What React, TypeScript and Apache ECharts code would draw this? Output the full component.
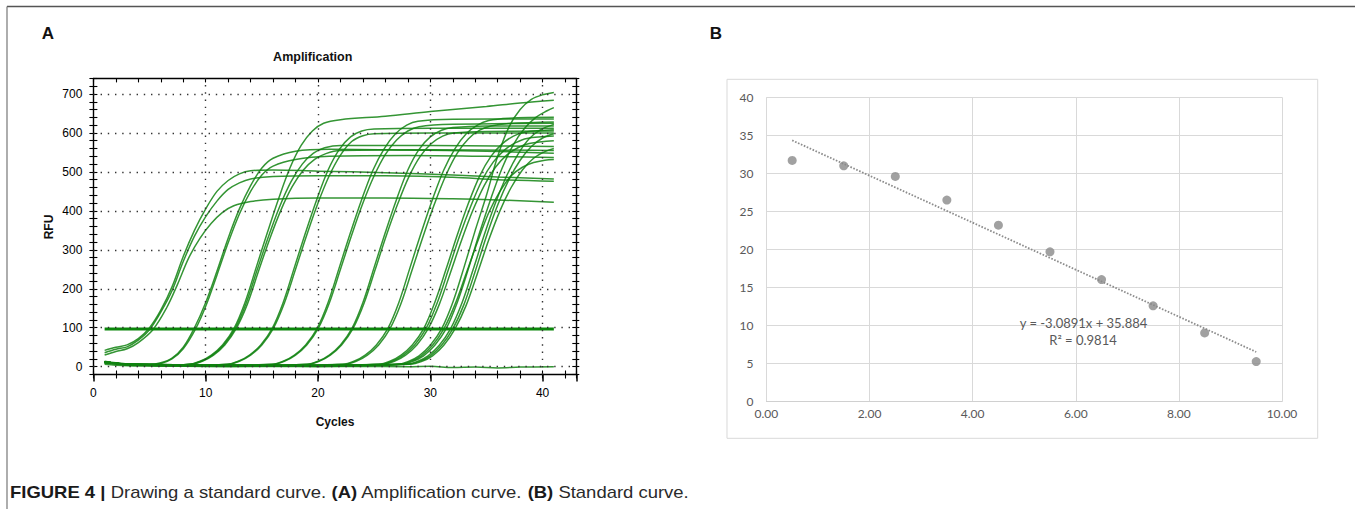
import React, { useEffect, useRef } from "react";
import * as echarts from "echarts";

const W = 1355;
const H = 509;

const FONT_A = "'Liberation Sans', Arial, Helvetica, sans-serif";
const FONT_B = "Lato, 'Liberation Sans', Arial, sans-serif";
const FONT_CAP = "'Liberation Sans', Arial, Helvetica, sans-serif";

// ---------------- Panel A: amplification curves ----------------
const xTickLabelsA = [0, 10, 20, 30, 40];
const yTickLabelsA = [0, 100, 200, 300, 400, 500, 600, 700];
const thresholdRFU = 97;
const thresholdSpan = [1, 41];

const curveCt5a = [[1, 42], [2, 50], [3, 56], [4, 72], [5, 100], [6, 145], [7, 205], [8, 283], [9, 350], [10, 405], [11, 450], [12, 478], [13, 495], [14, 503], [16, 505], [20, 502], [26, 498], [32, 492], [36, 487], [41, 482]];
const curveCt5b = [[1, 36], [2, 45], [3, 51], [4, 68], [5, 95], [6, 140], [7, 195], [8, 270], [9, 335], [10, 385], [11, 425], [12, 455], [13, 472], [14, 482], [16, 488], [20, 490], [26, 490], [32, 486], [36, 480], [41, 476]];
const curveCt5c = [[1, 30], [2, 39], [3, 46], [4, 62], [5.3, 95], [6.5, 150], [7.5, 212], [8.5, 280], [9.5, 330], [10.5, 368], [11.5, 396], [12.5, 413], [14, 424], [16, 430], [20, 433], [26, 433], [32, 431], [36, 428], [41, 422]];
const curveCt9a = [[1, 14], [2, 10], [3, 7], [5, 6], [6, 10], [7, 22], [8, 50], [9, 100], [10, 165], [11, 245], [12, 330], [13, 405], [14, 465], [15, 510], [16, 535], [18, 553], [21, 558], [28, 556], [35, 553], [41, 548]];
const curveCt9b = [[1, 12], [2, 9], [3, 6], [5, 5], [6, 8], [7, 20], [8, 46], [9.1, 97], [10, 155], [11, 235], [12, 318], [13, 392], [14, 450], [15, 492], [16, 515], [18, 532], [21, 540], [28, 542], [35, 540], [41, 537]];
const curveCt12a = [[1, 13], [2, 9], [3, 6], [6, 3], [8.5, 6], [9.5, 14], [10.5, 30], [11.5, 56], [12.5, 97], [13.5, 165], [14.5, 255], [15.5, 345], [16.5, 432], [17.5, 510], [18.5, 568], [19.5, 605], [20.5, 625], [22, 634], [26, 643], [30, 655], [35, 668], [38, 677], [41, 684]];
const curveCt12b = [[1, 11], [2, 8], [3, 6], [6, 3], [8.6, 6], [9.6, 14], [10.6, 30], [11.6, 56], [12.6, 97], [13.6, 163], [14.6, 250], [15.6, 335], [16.6, 412], [17.6, 475], [18.6, 520], [19.6, 548], [20.6, 562], [22, 568], [30, 568], [41, 565]];
const curveCt12c = [[1, 10], [2, 8], [3, 5], [6, 3], [8.7, 6], [9.7, 14], [10.7, 30], [11.7, 56], [12.7, 97], [13.7, 160], [14.7, 245], [15.7, 328], [16.7, 402], [17.7, 462], [18.7, 505], [19.7, 532], [20.7, 547], [22, 555], [30, 557], [41, 555]];
const curveCt16a = [[1, 12], [2, 9], [3, 6], [8, 3], [11.9, 6], [12.9, 14], [13.9, 30], [14.9, 56], [15.9, 97], [16.9, 165], [17.9, 255], [18.9, 345], [19.9, 430], [20.9, 505], [21.9, 558], [22.9, 590], [23.9, 605], [25, 610], [30, 612], [41, 612]];
const curveCt16b = [[1, 13], [2, 9], [3, 6], [8, 3], [12, 6], [13, 14], [14, 30], [15, 56], [16, 97], [17, 163], [18, 250], [19, 338], [20, 420], [21, 490], [22, 543], [23, 578], [24, 593], [25, 598], [30, 600], [41, 600]];
const curveCt20a = [[1, 12], [2, 9], [3, 6], [10, 3], [15.9, 6], [16.9, 14], [17.9, 30], [18.9, 56], [19.9, 97], [20.9, 165], [21.9, 255], [22.9, 345], [23.9, 430], [24.9, 505], [25.9, 560], [26.9, 598], [27.9, 620], [28.9, 630], [32, 635], [41, 636]];
const curveCt20b = [[1, 11], [2, 8], [3, 5], [10, 2], [16, 6], [17, 14], [18, 30], [19, 56], [20, 97], [21, 163], [22, 250], [23, 338], [24, 420], [25, 490], [26, 545], [27, 582], [28, 605], [29, 616], [32, 622], [41, 625]];
const curveCt23a = [[1, 12], [2, 9], [3, 6], [12, 3], [19, 6], [20, 14], [21, 30], [22, 56], [23, 97], [24, 165], [25, 255], [26, 345], [27, 430], [28, 505], [29, 558], [30, 590], [31, 607], [32, 614], [35, 618], [41, 618]];
const curveCt23b = [[1, 10], [2, 8], [3, 5], [12, 2], [19.1, 6], [20.1, 14], [21.1, 30], [22.1, 56], [23.1, 97], [24.1, 163], [25.1, 250], [26.1, 338], [27.1, 418], [28.1, 488], [29.1, 540], [30.1, 573], [31.1, 592], [32.1, 600], [35, 604], [41, 605]];
const curveCt26a = [[1, 12], [2, 9], [3, 6], [15, 3], [22.2, 6], [23.2, 14], [24.2, 30], [25.2, 56], [26.2, 97], [27.2, 165], [28.2, 255], [29.2, 345], [30.2, 430], [31.2, 505], [32.2, 560], [33.2, 598], [34.2, 620], [35.2, 632], [37, 638], [41, 640]];
const curveCt26b = [[1, 11], [2, 8], [3, 5], [15, 2], [22.4, 6], [23.4, 14], [24.4, 30], [25.4, 56], [26.4, 97], [27.4, 163], [28.4, 250], [29.4, 338], [30.4, 420], [31.4, 492], [32.4, 548], [33.4, 585], [34.4, 607], [35.4, 618], [37, 624], [41, 628]];
const curveCt29a = [[1, 12], [2, 9], [3, 6], [18, 3], [25.4, 6], [26.4, 14], [27.4, 30], [28.4, 56], [29.4, 97], [30.4, 165], [31.4, 250], [32.4, 338], [33.4, 420], [34.4, 490], [35.4, 540], [36.4, 572], [37.4, 592], [38.4, 602], [41, 608]];
const curveCt29b = [[1, 11], [2, 8], [3, 6], [18, 2], [25.6, 6], [26.6, 14], [27.6, 30], [28.6, 56], [29.6, 97], [30.6, 163], [31.6, 248], [32.6, 335], [33.6, 412], [34.6, 478], [35.6, 525], [36.6, 556], [37.6, 575], [38.6, 586], [41, 592]];
const curveCt29c = [[1, 13], [2, 9], [3, 6], [18, 3], [25.8, 6], [26.8, 14], [27.8, 30], [28.8, 56], [29.8, 97], [30.8, 160], [31.8, 242], [32.8, 326], [33.8, 402], [34.8, 465], [35.8, 512], [36.8, 543], [37.8, 562], [38.8, 573], [41, 580]];
const curveCt31a = [[1, 12], [2, 9], [3, 6], [20, 2], [27, 6], [28, 13], [29, 28], [30, 55], [31, 97], [32, 165], [33, 255], [34, 350], [35, 440], [36, 540], [37, 615], [38, 660], [39, 686], [40, 698], [41, 704]];
const curveCt31b = [[1, 11], [2, 8], [3, 6], [20, 3], [27.4, 6], [28.4, 13], [29.4, 28], [30.4, 55], [31.4, 97], [32.4, 165], [33.4, 252], [34.4, 345], [35.4, 432], [36.4, 510], [37.4, 570], [38.4, 612], [39.4, 640], [40.4, 657], [41, 665]];
const curveCt31c = [[1, 13], [2, 9], [3, 6], [20, 3], [27.8, 6], [28.8, 13], [29.8, 28], [30.8, 55], [31.8, 97], [32.8, 162], [33.8, 248], [34.8, 338], [35.8, 420], [36.8, 490], [37.8, 545], [38.8, 585], [39.8, 608], [41, 622]];
const curveCt31d = [[1, 12], [2, 9], [3, 6], [20, 3], [27.2, 6], [28.2, 13], [29.2, 28], [30.2, 55], [31.2, 97], [32.2, 160], [33.2, 240], [34.2, 320], [35.2, 395], [36.2, 450], [37.2, 490], [38.2, 512], [39.2, 524], [40.2, 530], [41, 532]];
const curveCt32a = [[1, 12], [2, 8], [3, 5], [20, 2], [28, 6], [29, 13], [30, 28], [31, 55], [32, 97], [33, 160], [34, 245], [35, 335], [36, 415], [37, 480], [38, 530], [39, 565], [40, 587], [41, 598]];
const curveCt32b = [[1, 10], [2, 7], [3, 5], [20, 2], [28.2, 6], [29.2, 13], [30.2, 28], [31.2, 55], [32.2, 97], [33.2, 158], [34.2, 240], [35.2, 325], [36.2, 400], [37.2, 460], [38.2, 505], [39.2, 535], [40.2, 552], [41, 560]];
const curveNTC = [[1, 6], [2, 4], [4, 2], [8, 1], [12, 0], [16, 1], [20, 0], [24, 1], [28, 0], [30, 1], [32, -2], [34, -1], [36, -3], [38, -1], [41, 0]];

const amplificationCurves = [
  curveCt5a, curveCt5b, curveCt5c,
  curveCt9a, curveCt9b,
  curveCt12a, curveCt12b, curveCt12c,
  curveCt16a, curveCt16b,
  curveCt20a, curveCt20b,
  curveCt23a, curveCt23b,
  curveCt26a, curveCt26b,
  curveCt29a, curveCt29b, curveCt29c,
  curveCt31a, curveCt31b, curveCt31c, curveCt31d,
  curveCt32a, curveCt32b,
  curveNTC,
];

// ---------------- Panel B: standard curve ----------------
const logQuantity = [0.5, 1.5, 2.5, 3.5, 4.5, 5.5, 6.5, 7.5, 8.5, 9.5];
const ctValues = [31.7, 31.0, 29.6, 26.5, 23.2, 19.7, 16.05, 12.6, 9.04, 5.27];
const trendSlope = -3.0891;
const trendIntercept = 35.884;
const rSquared = 0.9814;
const trendXRange = [0.5, 9.5];

function buildOption(): any {
  const green = "rgba(16,130,16,0.85)";
  const blackLine = { color: "#000", width: 1.4 };
  const tickStyle = { color: "#000", width: 1.1 };

  const curveSeries = amplificationCurves.map((c) => ({
    type: "line",
    xAxisIndex: 0,
    yAxisIndex: 0,
    data: c,
    showSymbol: false,
    symbol: "none",
    smooth: 0.35,
    silent: true,
    clip: true,
    z: 3,
    lineStyle: { color: green, width: 1.5 },
  }));

  const gridSeries = {
    type: "line",
    xAxisIndex: 0,
    yAxisIndex: 0,
    data: [[0, -100]],
    showSymbol: false,
    symbol: "none",
    silent: true,
    z: 1,
    lineStyle: { opacity: 0 },
    markLine: {
      silent: true,
      symbol: ["none", "none"],
      label: { show: false },
      lineStyle: { color: "#333", width: 1.4, type: [1.4, 5.8] },
      data: [
        ...yTickLabelsA.map((v) => ({ yAxis: v })),
        ...xTickLabelsA.filter((v) => v > 0).map((v) => ({ xAxis: v })),
      ],
    },
  };

  const thresholdSeries = {
    type: "line",
    xAxisIndex: 0,
    yAxisIndex: 0,
    data: thresholdSpan.map((x) => [x, thresholdRFU]),
    showSymbol: false,
    symbol: "none",
    silent: true,
    z: 4,
    lineStyle: { color: "#0a850a", width: 3 },
  };

  const scatterSeries = {
    type: "scatter",
    xAxisIndex: 4,
    yAxisIndex: 3,
    data: logQuantity.map((x, i) => [x, ctValues[i]]),
    symbol: "circle",
    symbolSize: 9,
    silent: true,
    z: 4,
    itemStyle: { color: "#8a8a8a" },
  };

  const trendSeries = {
    type: "line",
    xAxisIndex: 4,
    yAxisIndex: 3,
    data: trendXRange.map((x) => [x, trendSlope * x + trendIntercept]),
    showSymbol: false,
    symbol: "none",
    silent: true,
    z: 3,
    lineStyle: { color: "#8c8c8c", width: 1.8, type: [1.6, 1.6] },
  };

  const fmtA = (list: number[]) => (v: number) => (list.indexOf(Math.round(v)) >= 0 && Math.abs(v - Math.round(v)) < 1e-6 ? String(Math.round(v)) : "");

  const baseXA = { type: "value", gridIndex: 0, min: 0, max: 43, interval: 2, splitLine: { show: false } };
  const baseYA = { type: "value", gridIndex: 0, min: -20, max: 740, interval: 20, splitLine: { show: false } };

  const eqText = `y = ${trendSlope}x + ${trendIntercept}`;
  const r2Text = `R² = ${rSquared}`;

  return {
    animation: false,
    backgroundColor: "#fff",
    grid: [
      { left: 93.4, right: W - 576.3, top: 78.4, bottom: H - 374.5, containLabel: false, outerBoundsMode: "none" },
      { left: 766.4, right: W - 1282, top: 97.3, bottom: H - 401.7, containLabel: false, outerBoundsMode: "none" },
    ],
    xAxis: [
      {
        ...baseXA,
        position: "bottom",
        axisLine: { show: true, onZero: false, lineStyle: blackLine },
        axisTick: { show: true, inside: false, length: 4, lineStyle: tickStyle },
        axisLabel: { show: true, margin: 12, color: "#000", fontSize: 12, fontFamily: FONT_A, formatter: fmtA(xTickLabelsA) },
      },
      {
        ...baseXA,
        position: "bottom",
        axisLine: { show: false, onZero: false },
        axisTick: { show: true, inside: true, length: 4, lineStyle: tickStyle },
        axisLabel: { show: false },
      },
      {
        ...baseXA,
        position: "top",
        axisLine: { show: true, onZero: false, lineStyle: blackLine },
        axisTick: { show: true, inside: true, length: 4, lineStyle: tickStyle },
        axisLabel: { show: false },
      },
      {
        ...baseXA,
        interval: 10,
        position: "bottom",
        axisLine: { show: false, onZero: false },
        axisTick: { show: true, inside: false, length: 7, lineStyle: { color: "#000", width: 1.5 } },
        axisLabel: { show: false },
      },
      {
        type: "value",
        gridIndex: 1,
        min: 0,
        max: 10,
        interval: 2,
        position: "bottom",
        axisLine: { show: true, onZero: false, lineStyle: { color: "#d0d0d0", width: 1 } },
        axisTick: { show: false },
        axisLabel: { show: true, margin: 6, color: "#595959", fontSize: 12, fontFamily: FONT_B, formatter: (v: number) => v.toFixed(2) },
        splitLine: { show: true, lineStyle: { color: "#d9d9d9", width: 1 } },
      },
    ],
    yAxis: [
      {
        ...baseYA,
        position: "left",
        axisLine: { show: true, onZero: false, lineStyle: blackLine },
        axisTick: { show: true, inside: false, length: 4, lineStyle: tickStyle },
        axisLabel: { show: true, margin: 11, color: "#000", fontSize: 12, fontFamily: FONT_A, formatter: fmtA(yTickLabelsA) },
      },
      {
        ...baseYA,
        position: "left",
        axisLine: { show: false, onZero: false },
        axisTick: { show: true, inside: true, length: 4, lineStyle: tickStyle },
        axisLabel: { show: false },
      },
      {
        ...baseYA,
        position: "right",
        axisLine: { show: true, onZero: false, lineStyle: blackLine },
        axisTick: { show: true, inside: true, length: 4, lineStyle: tickStyle },
        axisLabel: { show: false },
      },
      {
        type: "value",
        gridIndex: 1,
        min: 0,
        max: 40,
        interval: 5,
        position: "left",
        axisLine: { show: false, onZero: false },
        axisTick: { show: false },
        axisLabel: { show: true, margin: 13, color: "#595959", fontSize: 12, fontFamily: FONT_B },
        splitLine: { show: true, lineStyle: { color: "#d9d9d9", width: 1 } },
      },
      {
        ...baseYA,
        position: "right",
        axisLine: { show: false, onZero: false },
        axisTick: { show: true, inside: false, length: 3, lineStyle: tickStyle },
        axisLabel: { show: false },
      },
    ],
    graphic: [
      // figure frame (top and left rules)
      { type: "line", silent: true, shape: { x1: 7, y1: 6.5, x2: W, y2: 6.5 }, style: { stroke: "#555", lineWidth: 1.5 } },
      { type: "line", silent: true, shape: { x1: 7, y1: 6.5, x2: 7, y2: H }, style: { stroke: "#777", lineWidth: 1.2 } },
      // panel letters
      { type: "text", silent: true, x: 47.8, y: 33.5, style: { text: "A", fontSize: 17, fontWeight: "bold", fontFamily: FONT_A, fill: "#111", align: "center", verticalAlign: "middle" } },
      { type: "text", silent: true, x: 716, y: 33.5, style: { text: "B", fontSize: 17, fontWeight: "bold", fontFamily: FONT_A, fill: "#111", align: "center", verticalAlign: "middle" } },
      // panel A titles
      { type: "text", silent: true, x: 312.7, y: 56.7, style: { text: "Amplification", fontSize: 12.5, fontWeight: "bold", fontFamily: FONT_A, fill: "#111", align: "center", verticalAlign: "middle" } },
      { type: "text", silent: true, x: 335, y: 421.5, style: { text: "Cycles", fontSize: 12, fontWeight: "bold", fontFamily: FONT_A, fill: "#111", align: "center", verticalAlign: "middle" } },
      { type: "text", silent: true, x: 49, y: 227, rotation: Math.PI / 2, style: { text: "RFU", fontSize: 12, fontWeight: "bold", fontFamily: FONT_A, fill: "#111", align: "center", verticalAlign: "middle" } },
      // panel B chart box
      { type: "rect", silent: true, shape: { x: 727, y: 79.3, width: 590.7, height: 359 }, style: { fill: "none", stroke: "#d9d9d9", lineWidth: 1 } },
      { type: "text", silent: true, z: 10, x: 1083.5, y: 322.7, style: { text: eqText, fontSize: 13, fontFamily: FONT_B, fill: "#595959", align: "center", verticalAlign: "middle" } },
      { type: "text", silent: true, z: 10, x: 1083, y: 340, style: { text: r2Text, fontSize: 13, fontFamily: FONT_B, fill: "#595959", align: "center", verticalAlign: "middle" } },
      // caption
      {
        type: "text",
        silent: true,
        x: 10,
        y: 492,
        scaleX: 1.155,
        scaleY: 1,
        style: {
          text: "{b|FIGURE 4 |} Drawing a standard curve. {b|(A)} Amplification curve. {b|(B)} Standard curve.",
          fontSize: 16,
          fontFamily: FONT_CAP,
          fill: "#2a2a2a",
          align: "left",
          verticalAlign: "middle",
          rich: {
            b: { fontSize: 16, fontWeight: "bold", fontFamily: FONT_CAP, fill: "#1a1a1a" },
          },
        },
      },
    ],
    series: [gridSeries, ...curveSeries, thresholdSeries, trendSeries, scatterSeries],
  };
}

export default function App() {
  const ref = useRef<HTMLDivElement>(null);
  useEffect(() => {
    if (!ref.current) return;
    const chart = echarts.init(ref.current, null, { renderer: "svg", width: W, height: H });
    chart.setOption(buildOption());
    return () => {
      chart.dispose();
    };
  }, []);
  return (
    <div
      ref={ref}
      style={{ position: "absolute", left: 0, top: 0, width: W, height: H, background: "#fff" }}
    />
  );
}
